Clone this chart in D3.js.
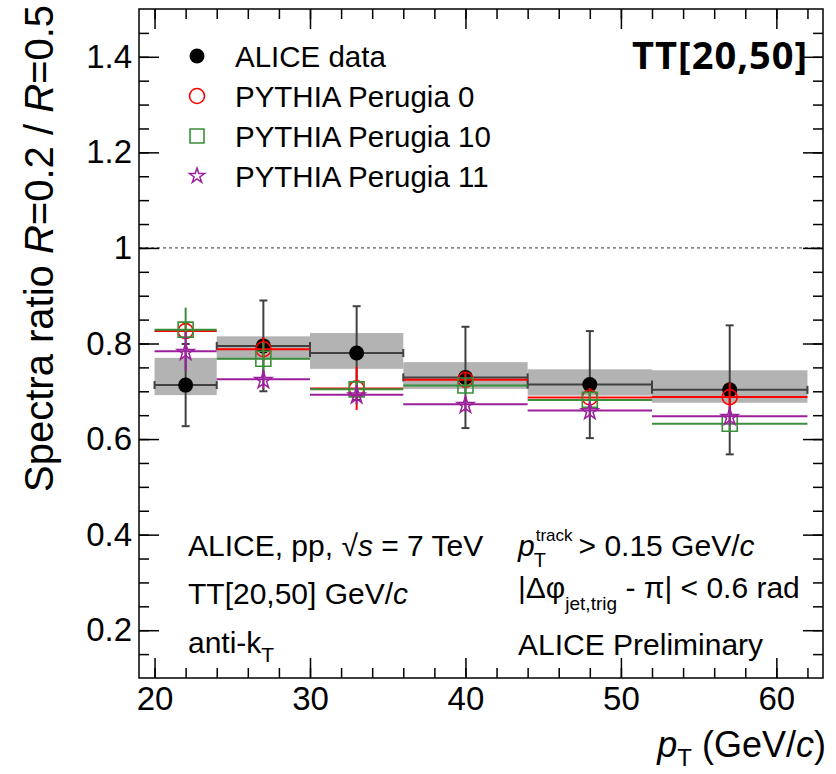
<!DOCTYPE html>
<html><head><meta charset="utf-8">
<script src="https://cdn.jsdelivr.net/npm/d3@7"></script>
<style>
body{margin:0;background:#fff}
svg{display:block}
text{font-family:"Liberation Sans",Arial,Helvetica,sans-serif;fill:#000}
</style>
</head><body>
<svg id="c" width="836" height="774"></svg>
<script>
// ---- data ----
const binLo     = [20, 24, 30, 36, 44, 52];
const binHi     = [24, 30, 36, 44, 52, 62];
const binCenter = [22, 27, 33, 40, 48, 57];

const aliceData  = [0.713, 0.795, 0.780, 0.729, 0.714, 0.703];
const aliceStat  = [0.086, 0.095, 0.098, 0.106, 0.112, 0.135];
const aliceSysLo = [0.692, 0.766, 0.747, 0.705, 0.691, 0.676];
const aliceSysHi = [0.770, 0.815, 0.822, 0.761, 0.746, 0.744];

const perugia0     = [0.826, 0.788, 0.706, 0.724, 0.687, 0.688];
const perugia0Err  = [0.015, 0.025, 0.045, 0.015, 0.020, 0.030];
const perugia10    = [0.829, 0.768, 0.704, 0.712, 0.682, 0.632];
const perugia10Err = [0.046, 0.035, 0.015, 0.015, 0.015, 0.015];
const perugia11    = [0.784, 0.725, 0.693, 0.673, 0.660, 0.648];
const perugia11Err = [0.040, 0.020, 0.020, 0.015, 0.015, 0.020];

const xTickVals   = [20, 30, 40, 50, 60];
const xTickLabels = ["20", "30", "40", "50", "60"];
const yTickVals   = [0.2, 0.4, 0.6, 0.8, 1.0, 1.2, 1.4];
const yTickLabels = ["0.2", "0.4", "0.6", "0.8", "1", "1.2", "1.4"];

const legendLabels = ["ALICE data", "PYTHIA Perugia 0", "PYTHIA Perugia 10", "PYTHIA Perugia 11"];

// ---- layout ----
const L = 139, R = 823, T = 9, B = 678;
const svg = d3.select("#c");
const x = d3.scaleLinear().domain([19, 63]).range([L, R]);
const y = d3.scaleLinear().domain([0.1, 1.5]).range([B, T]);

const cRed = "#ff0000", cGreen = "#3a8f3a", cPurple = "#9c1f9c", cData = "#404040";

// y = 1 reference
svg.append("line").attr("x1", L).attr("x2", R).attr("y1", y(1)).attr("y2", y(1))
  .attr("stroke", "#333").attr("stroke-width", 1).attr("stroke-dasharray", "3,3");

// systematic boxes
const idx = d3.range(binLo.length);
svg.append("g").selectAll("rect").data(idx).join("rect")
  .attr("x", i => x(binLo[i])).attr("width", i => x(binHi[i]) - x(binLo[i]))
  .attr("y", i => y(aliceSysHi[i])).attr("height", i => y(aliceSysLo[i]) - y(aliceSysHi[i]))
  .attr("fill", "#b3b3b3");

// ALICE data
const gd = svg.append("g").attr("stroke", cData).attr("stroke-width", 2);
idx.forEach(i => {
  const yc = y(aliceData[i]), xc = x(binCenter[i]);
  const x0 = x(binLo[i]), x1 = x(binHi[i]);
  const yt = y(aliceData[i] + aliceStat[i]), yb = y(aliceData[i] - aliceStat[i]);
  gd.append("line").attr("x1", x0).attr("x2", x1).attr("y1", yc).attr("y2", yc);
  gd.append("line").attr("x1", x0).attr("x2", x0).attr("y1", yc - 4).attr("y2", yc + 4);
  gd.append("line").attr("x1", x1).attr("x2", x1).attr("y1", yc - 4).attr("y2", yc + 4);
  gd.append("line").attr("x1", xc).attr("x2", xc).attr("y1", yt).attr("y2", yb);
  gd.append("line").attr("x1", xc - 4).attr("x2", xc + 4).attr("y1", yt).attr("y2", yt);
  gd.append("line").attr("x1", xc - 4).attr("x2", xc + 4).attr("y1", yb).attr("y2", yb);
});
svg.append("g").selectAll("circle").data(idx).join("circle")
  .attr("cx", i => x(binCenter[i])).attr("cy", i => y(aliceData[i])).attr("r", 7.5).attr("fill", "#000");

// MC series
const starPath = d3.symbol().type(d3.symbolStar).size(88)();
const squarePath = d3.symbol().type(d3.symbolSquare).size(225)();
function mc(vals, errs, color, marker) {
  const g = svg.append("g");
  idx.forEach(i => {
    const yc = y(vals[i]), xc = x(binCenter[i]);
    g.append("line").attr("x1", x(binLo[i])).attr("x2", x(binHi[i])).attr("y1", yc).attr("y2", yc)
      .attr("stroke", color).attr("stroke-width", 2);
    g.append("line").attr("x1", xc).attr("x2", xc).attr("y1", y(vals[i] + errs[i])).attr("y2", y(vals[i] - errs[i]))
      .attr("stroke", color).attr("stroke-width", 2);
    marker(g, xc, yc);
  });
}
const mkCircle = (g, cx, cy) => g.append("circle").attr("cx", cx).attr("cy", cy).attr("r", 7.5)
  .attr("fill", "none").attr("stroke", cRed).attr("stroke-width", 1.6);
const mkSquare = (g, cx, cy) => g.append("path").attr("d", squarePath).attr("transform", `translate(${cx},${cy})`)
  .attr("fill", "none").attr("stroke", cGreen).attr("stroke-width", 1.6);
const mkStar = (g, cx, cy) => g.append("path").attr("d", starPath).attr("transform", `translate(${cx},${cy + 1})`)
  .attr("fill", "none").attr("stroke", cPurple).attr("stroke-width", 1.5);
mc(perugia0, perugia0Err, cRed, mkCircle);
mc(perugia10, perugia10Err, cGreen, mkSquare);
mc(perugia11, perugia11Err, cPurple, mkStar);

// ---- axes ----
const xMinor = d3.range(20, 63, 2);
const yMinor = d3.range(3, 30).map(k => +(k * 0.05).toFixed(2));
function styleAxis(g) { g.select(".domain").remove(); g.selectAll("line").attr("stroke", "#000").attr("stroke-width", 1.5); }
const fs = "33px";
svg.append("g").attr("transform", `translate(0,${B})`)
  .call(d3.axisBottom(x).tickValues(xTickVals).tickFormat((d, i) => xTickLabels[i]).tickSize(-20).tickPadding(9))
  .call(styleAxis).call(g => g.selectAll("text").attr("font-size", fs).attr("font-family", "Liberation Sans, Arial, sans-serif"));
svg.append("g").attr("transform", `translate(0,${B})`)
  .call(d3.axisBottom(x).tickValues(xMinor).tickFormat("").tickSize(-10)).call(styleAxis);
svg.append("g").attr("transform", `translate(0,${T})`)
  .call(d3.axisTop(x).tickValues(xTickVals).tickFormat("").tickSize(-20)).call(styleAxis);
svg.append("g").attr("transform", `translate(0,${T})`)
  .call(d3.axisTop(x).tickValues(xMinor).tickFormat("").tickSize(-10)).call(styleAxis);
svg.append("g").attr("transform", `translate(${L},0)`)
  .call(d3.axisLeft(y).tickValues(yTickVals).tickFormat((d, i) => yTickLabels[i]).tickSize(-20).tickPadding(7))
  .call(styleAxis).call(g => g.selectAll("text").attr("font-size", fs).attr("font-family", "Liberation Sans, Arial, sans-serif"));
svg.append("g").attr("transform", `translate(${L},0)`)
  .call(d3.axisLeft(y).tickValues(yMinor).tickFormat("").tickSize(-10)).call(styleAxis);
svg.append("g").attr("transform", `translate(${R},0)`)
  .call(d3.axisRight(y).tickValues(yTickVals).tickFormat("").tickSize(-20)).call(styleAxis);
svg.append("g").attr("transform", `translate(${R},0)`)
  .call(d3.axisRight(y).tickValues(yMinor).tickFormat("").tickSize(-10)).call(styleAxis);

svg.append("rect").attr("x", L).attr("y", T).attr("width", R - L).attr("height", B - T)
  .attr("fill", "none").attr("stroke", "#000").attr("stroke-width", 1.5);

// ---- axis titles ----
const xt = svg.append("text").attr("x", 826).attr("y", 757).attr("text-anchor", "end").attr("font-size", 36);
xt.append("tspan").attr("font-style", "italic").text("p");
xt.append("tspan").attr("font-size", 24).attr("dy", 9).text("T");
xt.append("tspan").attr("dy", -9).text(" (GeV/");
xt.append("tspan").attr("font-style", "italic").text("c");
xt.append("tspan").text(")");

const yt = svg.append("text").attr("transform", "translate(53,5) rotate(-90)").attr("text-anchor", "end").attr("font-size", 40);
yt.append("tspan").text("Spectra ratio ");
yt.append("tspan").attr("font-style", "italic").text("R");
yt.append("tspan").text("=0.2 / ");
yt.append("tspan").attr("font-style", "italic").text("R");
yt.append("tspan").text("=0.5");

// ---- legend ----
const legY = [56, 96, 136, 176];
const lg = svg.append("g");
lg.append("circle").attr("cx", 197).attr("cy", legY[0]).attr("r", 7.5).attr("fill", "#000");
mkCircle(lg, 197, legY[1]);
mkSquare(lg, 197, legY[2]).attr("d", d3.symbol().type(d3.symbolSquare).size(196)());
mkStar(lg, 197, legY[3] - 1).attr("d", d3.symbol().type(d3.symbolStar).size(70)());
legendLabels.forEach((t, i) => lg.append("text").attr("x", 235).attr("y", legY[i] + 10.5).attr("font-size", 29.5).text(t));

// ---- TT label ----
svg.append("text").attr("x", 808).attr("y", 69).attr("text-anchor", "end")
  .attr("font-weight", 700).attr("font-size", 38)
  .attr("letter-spacing", 1).style("font-family", "'Open Sans', sans-serif").text("TT[20,50]");

// ---- annotations ----
const af = 30;
const a1 = svg.append("text").attr("x", 188).attr("y", 556).attr("font-size", af);
a1.append("tspan").text("ALICE, pp, √");
a1.append("tspan").attr("font-style", "italic").text("s");
a1.append("tspan").text(" = 7 TeV");

const a2 = svg.append("text").attr("x", 188).attr("y", 604).attr("font-size", af);
a2.append("tspan").text("TT[20,50] GeV/");
a2.append("tspan").attr("font-style", "italic").text("c");

const a3 = svg.append("text").attr("x", 188).attr("y", 653).attr("font-size", af);
a3.append("tspan").text("anti-k");
a3.append("tspan").attr("font-size", 21).attr("dy", 9).text("T");

// p_T^track
const p = svg.append("text").attr("x", 518).attr("y", 556).attr("font-size", af).attr("font-style", "italic").text("p");
const pw = p.node().getComputedTextLength();
const sup = svg.append("text").attr("x", 518 + pw + 1).attr("y", 541).attr("font-size", 17).text("track");
svg.append("text").attr("x", 518 + pw - 1).attr("y", 567).attr("font-size", 20).text("T");
const sw = sup.node().getComputedTextLength();
const r1 = svg.append("text").attr("x", 518 + pw + 1 + sw + 6).attr("y", 556).attr("font-size", af);
r1.append("tspan").text("> 0.15 GeV/");
r1.append("tspan").attr("font-style", "italic").text("c");

const r2 = svg.append("text").attr("x", 518).attr("y", 598).attr("font-size", af);
r2.append("tspan").text("|Δφ");
r2.append("tspan").attr("font-size", 19).attr("dy", 12).text("jet,trig");
r2.append("tspan").attr("dy", -12).text(" - π| < 0.6 rad");

svg.append("text").attr("x", 518).attr("y", 655).attr("font-size", af).text("ALICE Preliminary");
</script>
</body></html>
